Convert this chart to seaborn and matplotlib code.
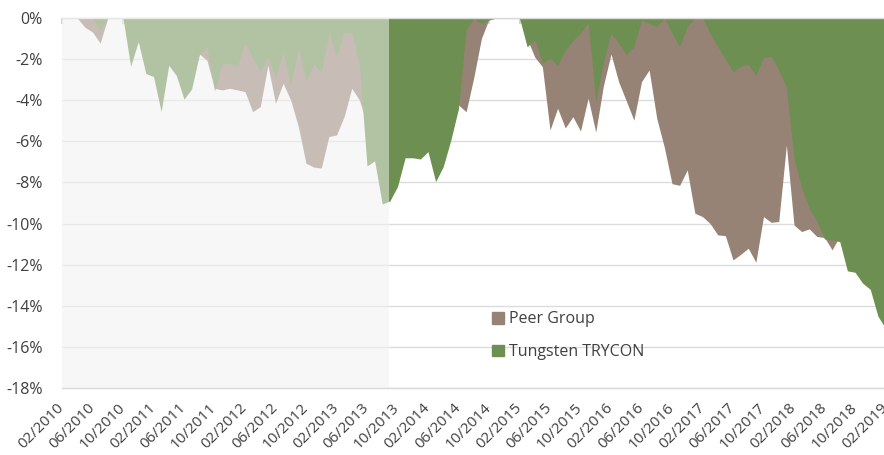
import numpy as np
import pandas as pd
import seaborn as sns
import matplotlib.pyplot as plt
from matplotlib.patches import Patch

# monthly drawdowns (%), 02/2010 .. 02/2019
months = pd.date_range("2010-02-01", periods=109, freq="MS")

peer_group = [
    0, 0, 0, -0.45, -0.68, -1.22, 0, 0, 0, -1.5,
    -0.9, -2.0, -2.3, -3.4, -1.9, -2.4, -3.3, -2.8, -1.75, -2.05,
    -3.42, -3.5, -3.42, -3.5, -3.58, -4.56, -4.31, -2.3, -4.15, -3.18,
    -4.0, -5.29, -7.07, -7.25, -7.3, -5.77, -5.69, -4.8, -3.42, -3.99,
    -5.2, -5.6, -6.0, -6.1, -5.8, -5.5, -5.3, -5.0, -5.2, -5.8,
    -5.5, -5.0, -4.23, -4.56, -2.9, -1.0, -0.05, 0, 0, 0,
    0, -1.0, -1.9, -2.37, -5.45, -4.39, -5.35, -4.8, -5.5, -3.9,
    -5.55, -3.3, -1.75, -3.1, -4.03, -4.97, -3.1, -2.53, -4.88, -6.3,
    -8.06, -8.14, -7.39, -9.5, -9.66, -10.0, -10.55, -10.59, -11.77, -11.5,
    -11.2, -11.88, -9.66, -9.94, -9.9, -6.18, -10.07, -10.39, -10.26, -10.63,
    -10.68, -11.28, -10.6, -11.0, -11.2, -11.4, -11.8, -12.2, -12.6,
]

trycon = [
    0, 0, 0, 0, 0, -0.6, 0, 0, 0, -2.35,
    -1.15, -2.7, -2.85, -4.55, -2.3, -2.8, -3.95, -3.45, -1.8, -1.4,
    -3.55, -2.25, -2.2, -2.35, -1.2, -1.95, -2.6, -1.9, -2.9, -1.6,
    -3.25, -1.48, -3.05, -2.25, -2.65, -0.7, -1.88, -0.7, -0.7, -2.3,
    -7.2, -6.95, -9.05, -8.9, -8.2, -6.8, -6.8, -6.86, -6.5, -7.96,
    -7.23, -5.93, -4.4, -0.55, -0.05, -0.25, -0.1, 0, 0, 0,
    0, -1.4, -1.05, -2.2, -1.96, -2.3, -1.56, -1.1, -0.75, -0.2,
    -4.07, -2.15, -0.75, -1.23, -1.78, -1.4, -0.1, -0.26, -0.42, 0,
    -0.75, -1.4, -0.42, 0, 0, -0.75, -1.4, -2.0, -2.63, -2.35,
    -2.25, -2.8, -1.92, -1.87, -2.53, -3.37, -6.83, -8.28, -9.26, -9.9,
    -10.75, -10.8, -10.88, -12.3, -12.37, -12.9, -13.2, -14.5, -15.1,
]

# back-tested part of the track record is shown faded
faded_end = 42.9

data = pd.DataFrame({"Month": months, "Peer Group": peer_group, "Tungsten TRYCON": trycon})
data["idx"] = np.arange(len(data))

colors = {"Peer Group": "#978375", "Tungsten TRYCON": "#6e8f52"}
text_color = "#404040"

sns.set_theme(style="white")
plt.rcParams["font.family"] = ["Open Sans", "DejaVu Sans"]

fig = plt.figure(figsize=(8.84, 4.55), dpi=100)
ax = fig.add_axes([62 / 884, 67 / 455, 823.5 / 884, 370 / 455])

ax.axvspan(0, faded_end, color="#f7f7f7", lw=0, zorder=0)
ax.set_axisbelow(True)
ax.yaxis.grid(True, color="#dcdcdc", lw=1)

for z, col in enumerate(["Peer Group", "Tungsten TRYCON"]):
    ax.fill_between(data["idx"], data[col], 0, color=colors[col], lw=0, zorder=1 + z)

# fade overlay
ax.axvspan(0, faded_end, color="#f7f7f7", alpha=0.5, lw=0, zorder=3)

ax.set_xlim(0, len(data) - 1)
ax.set_ylim(-18, 0)
yt = np.arange(0, -19, -2)
ax.set_yticks(yt)
ax.set_yticklabels([f"{v}%" for v in yt], color=text_color, fontsize=11.5)

xt = data["idx"][::4]
ax.set_xticks(xt)
ax.set_xticklabels(data["Month"][::4].dt.strftime("%m/%Y"), rotation=45,
                   ha="right", va="center", rotation_mode="anchor",
                   color=text_color, fontsize=11)

ax.tick_params(axis="y", length=0, pad=14)
ax.tick_params(axis="x", bottom=False, top=True, labelbottom=True, labeltop=False,
               direction="in", length=4, color="#d0d0d0", pad=13)

for side in ["left", "right"]:
    ax.spines[side].set_visible(False)
for side in ["top", "bottom"]:
    ax.spines[side].set_color("#d9d9d9")
    ax.spines[side].set_linewidth(1)
ax.set_xlabel("")
ax.set_ylabel("")

handles = [Patch(color=colors[c], label=c) for c in ["Peer Group", "Tungsten TRYCON"]]
leg = ax.legend(handles=handles, loc="upper left", bbox_to_anchor=(0.522, 0.207),
                frameon=False, fontsize=11.5, handlelength=0.75, handleheight=0.75,
                handletextpad=0.35, labelspacing=1.05, borderpad=0, borderaxespad=0)
for t in leg.get_texts():
    t.set_color(text_color)

fig.savefig("out.png", dpi=100)
